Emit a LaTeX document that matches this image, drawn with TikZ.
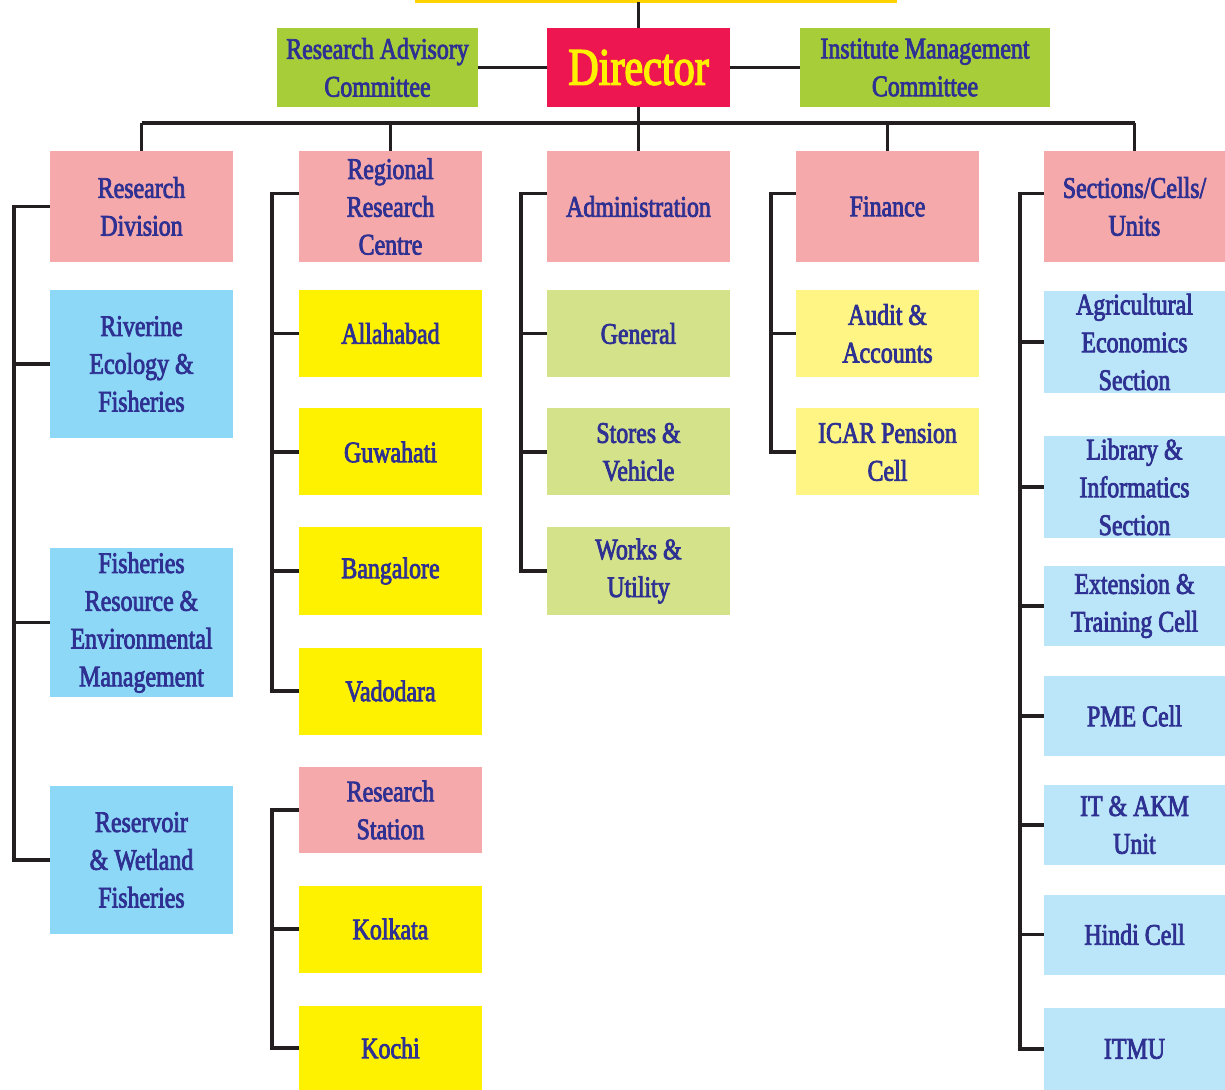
\documentclass[tikz,border=0pt]{standalone}
\usepackage{fontspec}
\setmainfont{Liberation Serif}[FakeStretch=0.8, FakeBold=2.6]
\usetikzlibrary{calc}

\definecolor{txtblue}{HTML}{2E3192}
\definecolor{headpink}{HTML}{F5A9AB}
\definecolor{divblue}{HTML}{8DD8F7}
\definecolor{rrcyellow}{HTML}{FFF200}
\definecolor{admingreen}{HTML}{D4E38A}
\definecolor{finyellow}{HTML}{FFF584}
\definecolor{cellblue}{HTML}{BBE5F9}
\definecolor{comgreen}{HTML}{A7CE39}
\definecolor{dirred}{HTML}{ED1651}
\definecolor{bargold}{HTML}{FFD200}
\definecolor{linegray}{HTML}{231F20}

\tikzset{
  unit/.style={rectangle, inner sep=0pt, align=center, text=txtblue,
               minimum width=3.66cm, minimum height=1.74cm,
               font=\fontsize{17}{21.5}\selectfont},
  head/.style={unit, fill=headpink, minimum height=2.22cm},
  committee/.style={unit, fill=comgreen, minimum height=1.58cm},
  link/.style={draw=linegray, line width=1.9pt}
}

\begin{document}
\begin{tikzpicture}
\useasboundingbox (0,0) rectangle (24.5,-21.8);
\fill[bargold] (8.3,0) rectangle (17.94,-0.07);
\coordinate (bar) at (12.77,-0.04);

% top row
\node[unit, fill=dirred, text=rrcyellow, minimum height=1.58cm,
      font=\fontsize{30}{32}\selectfont](dir) at (12.77,-1.35) {Director};
\node[committee, minimum width=4.02cm](rac) at (7.55,-1.35) {Research Advisory\\Committee};
\node[committee, minimum width=5cm](imc) at (18.5,-1.35) {Institute Management\\Committee};

% heads
\node[head](resdiv) at (2.83,-4.13) {Research\\Division};
\node[head](rrc) at (7.81,-4.13) {Regional\\Research\\Centre};
\node[head](admin) at (12.77,-4.13) {Administration};
\node[head](fin) at (17.75,-4.13) {Finance};
\node[head, minimum width=3.62cm](sec) at (22.69,-4.13) {Sections/Cells/\\Units};

% research division
\node[unit, fill=divblue, minimum height=2.96cm](riverine) at (2.83,-7.28) {Riverine\\Ecology \&\\Fisheries};
\node[unit, fill=divblue, minimum height=2.98cm](fishres) at (2.83,-12.45) {Fisheries\\Resource \&\\Environmental\\Management};
\node[unit, fill=divblue, minimum height=2.96cm](reservoir) at (2.83,-17.2) {Reservoir\\\& Wetland\\Fisheries};

% regional centres and station
\node[unit, fill=rrcyellow](alld) at (7.81,-6.67) {Allahabad};
\node[unit, fill=rrcyellow](guw) at (7.81,-9.04) {Guwahati};
\node[unit, fill=rrcyellow](blr) at (7.81,-11.42) {Bangalore};
\node[unit, fill=rrcyellow](vad) at (7.81,-13.82) {Vadodara};
\node[unit, fill=headpink, minimum height=1.72cm](rstn) at (7.81,-16.2) {Research\\Station};
\node[unit, fill=rrcyellow](kol) at (7.81,-18.58) {Kolkata};
\node[unit, fill=rrcyellow, minimum height=1.68cm](koc) at (7.81,-20.96) {Kochi};

% administration
\node[unit, fill=admingreen](gen) at (12.77,-6.67) {General};
\node[unit, fill=admingreen](stores) at (12.77,-9.04) {Stores \&\\Vehicle};
\node[unit, fill=admingreen](works) at (12.77,-11.42) {Works \&\\Utility};

% finance
\node[unit, fill=finyellow](audit) at (17.75,-6.67) {Audit \&\\Accounts};
\node[unit, fill=finyellow](pension) at (17.75,-9.04) {ICAR Pension\\Cell};

% sections, cells and units
\node[unit, fill=cellblue, minimum width=3.62cm, minimum height=2.04cm](agri) at (22.69,-6.84) {Agricultural\\Economics\\Section};
\node[unit, fill=cellblue, minimum width=3.62cm, minimum height=2.04cm](lib) at (22.69,-9.74) {Library \&\\Informatics\\Section};
\node[unit, fill=cellblue, minimum width=3.62cm, minimum height=1.6cm](ext) at (22.69,-12.12) {Extension \&\\Training Cell};
\node[unit, fill=cellblue, minimum width=3.62cm, minimum height=1.6cm](pme) at (22.69,-14.32) {PME Cell};
\node[unit, fill=cellblue, minimum width=3.62cm, minimum height=1.6cm](itakm) at (22.69,-16.5) {IT \& AKM\\Unit};
\node[unit, fill=cellblue, minimum width=3.62cm, minimum height=1.6cm](hindi) at (22.69,-18.69) {Hindi Cell};
\node[unit, fill=cellblue, minimum width=3.62cm, minimum height=1.64cm](itmu) at (22.69,-20.98) {ITMU};

% connectors at the top
\draw[link] (bar) -- (dir.north);
\draw[link] (rac) -- (dir);
\draw[link] (dir) -- (imc);
\coordinate (bus) at (0,-2.46);
\draw[link] (dir.south) -- (dir.south |- bus);
\draw[link] (resdiv.north |- bus) -- (sec.north |- bus);
\foreach \n in {resdiv,rrc,admin,fin,sec}
  \draw[link] (\n.north |- bus) -- (\n.north);

% brackets
\coordinate (b1) at (0.28,0);
\coordinate (b2) at (5.44,0);
\coordinate (b3) at (10.42,0);
\coordinate (b4) at (15.42,0);
\coordinate (b5) at (20.4,0);

\draw[link] (resdiv.west) -- (resdiv.west -| b1) |- (reservoir.west);
\foreach \n in {riverine,fishres}
  \draw[link] (\n.west) -- (\n.west -| b1);

\draw[link] ([yshift=0.26cm]rrc.west) -| (b2 |- vad.west) -- (vad.west);
\foreach \n in {alld,guw,blr}
  \draw[link] (\n.west) -- (\n.west -| b2);
\draw[link] (rstn.west) -| (b2 |- koc.west) -- (koc.west);
\draw[link] (kol.west) -- (kol.west -| b2);

\draw[link] ([yshift=0.26cm]admin.west) -| (b3 |- works.west) -- (works.west);
\foreach \n in {gen,stores}
  \draw[link] (\n.west) -- (\n.west -| b3);

\draw[link] ([yshift=0.26cm]fin.west) -| (b4 |- pension.west) -- (pension.west);
\draw[link] (audit.west) -- (audit.west -| b4);

\draw[link] ([yshift=0.26cm]sec.west) -| (b5 |- itmu.west) -- (itmu.west);
\foreach \n in {agri,lib,ext,pme,itakm,hindi}
  \draw[link] (\n.west) -- (\n.west -| b5);
\end{tikzpicture}
\end{document}
